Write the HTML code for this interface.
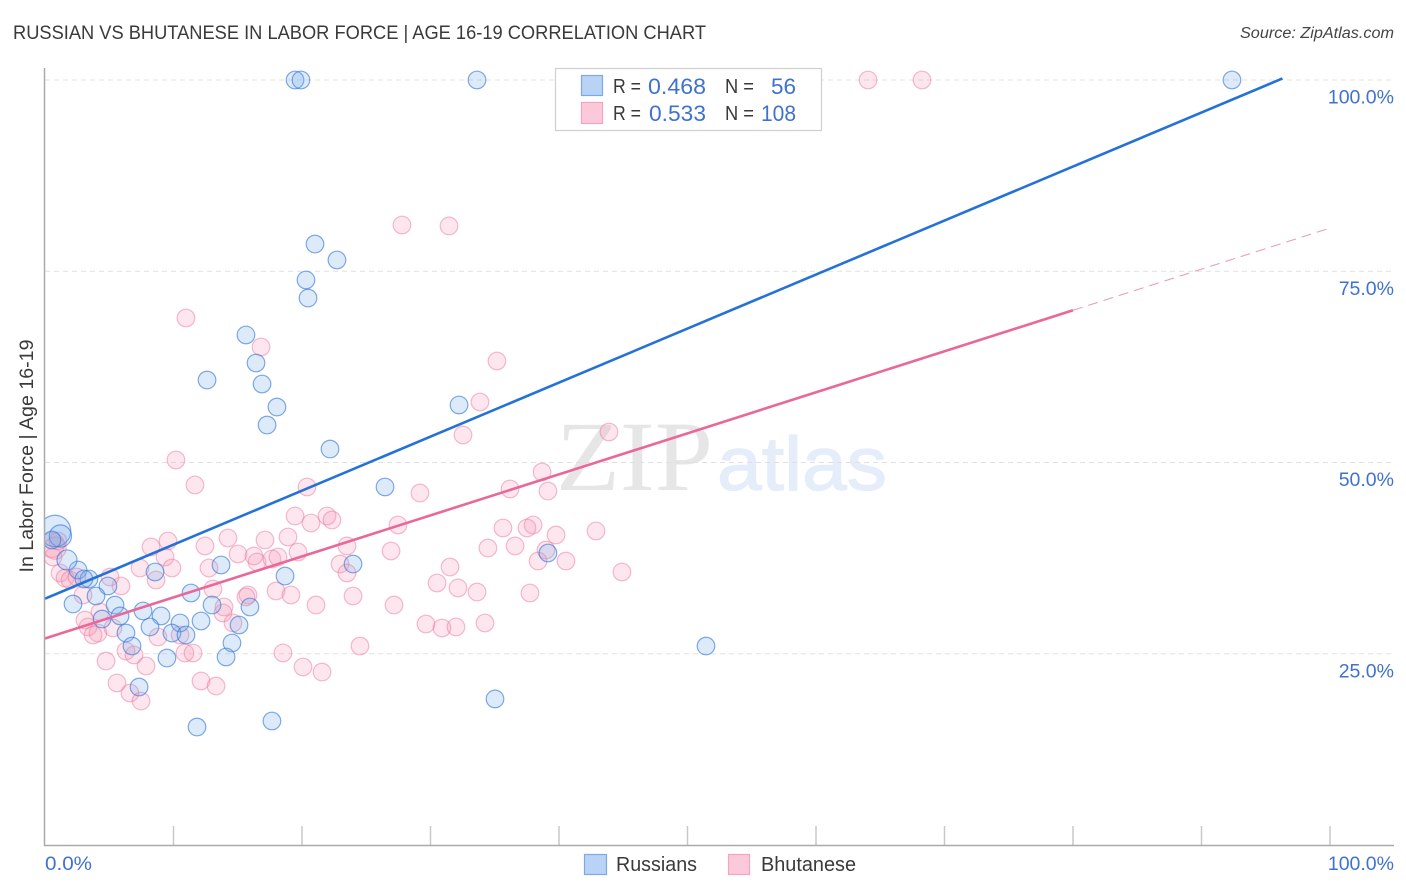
<!DOCTYPE html>
<html lang="en">
<head>
<meta charset="utf-8">
<title>Russian vs Bhutanese in Labor Force | Age 16-19 Correlation Chart</title>
<style>
html,body{margin:0;padding:0;background:#fff;}
svg{display:block;font-family:"Liberation Sans",sans-serif;}
</style>
</head>
<body>
<svg id="chart" xmlns="http://www.w3.org/2000/svg" width="1406" height="892" viewBox="0 0 1406 892">
  <defs>
    <clipPath id="plot-clip"><rect x="45" y="60" width="1350" height="785"></rect></clipPath>
  </defs>
  <rect x="0" y="0" width="1406" height="892" fill="#fff"></rect>
  <text x="13" y="39" font-size="19" fill="#3a3a3a" textLength="693" lengthAdjust="spacingAndGlyphs">RUSSIAN VS BHUTANESE IN LABOR FORCE | AGE 16-19 CORRELATION CHART</text>
  <text x="1394" y="38" font-size="15.5" font-style="italic" fill="#444" text-anchor="end" textLength="154" lengthAdjust="spacingAndGlyphs">Source: ZipAtlas.com</text>
  <g>
    <text x="556" y="490" font-family="'Liberation Serif',serif" font-size="100" fill="#e6e6e6" textLength="157" lengthAdjust="spacingAndGlyphs">ZIP</text>
    <text x="717" y="490" font-family="'Liberation Sans',sans-serif" font-size="76" fill="#e4edf9" stroke="#e4edf9" stroke-width="1.2" textLength="170" lengthAdjust="spacingAndGlyphs">atlas</text>
  </g>
  <g id="grid"></g>
  <g id="ticks"></g>
  <g id="points-bhutanese" clip-path="url(#plot-clip)"></g>
  <g id="points-russians" clip-path="url(#plot-clip)"></g>
  <g id="trends"></g>
  <line x1="44.5" y1="68" x2="44.5" y2="846" stroke="#aaa" stroke-width="1.5"></line>
  <line x1="44" y1="845.5" x2="1394" y2="845.5" stroke="#aaa" stroke-width="1.5"></line>
  <g id="y-labels"></g>
  <text x="45" y="870" font-size="19" fill="#3f72cf" textLength="47" lengthAdjust="spacingAndGlyphs">0.0%</text>
  <text x="1394" y="870" font-size="19.5" fill="#3f72cf" text-anchor="end">100.0%</text>
  <text transform="translate(33,456) rotate(-90)" font-size="19" fill="#3a3a3a" text-anchor="middle" textLength="233" lengthAdjust="spacingAndGlyphs">In Labor Force | Age 16-19</text>

  <g>
    <rect x="555.5" y="68.5" width="266" height="62" fill="#fff" stroke="#d0d0d0" stroke-width="1.2"></rect>
    <rect x="581.5" y="75.5" width="21" height="20" fill="#b9d3f6" stroke="#7ea9e2" stroke-width="1.2"></rect>
    <rect x="581.5" y="102.5" width="21" height="21" fill="#fcc9da" stroke="#f5a6be" stroke-width="1.2"></rect>
    <text x="613" y="93" font-size="20" fill="#3a3a3a" textLength="28" lengthAdjust="spacingAndGlyphs">R =</text>
    <text x="648" y="94" font-size="22" fill="#3f72cf" textLength="58" lengthAdjust="spacingAndGlyphs">0.468</text>
    <text x="725" y="93" font-size="20" fill="#3a3a3a" textLength="29" lengthAdjust="spacingAndGlyphs">N =</text>
    <text x="771" y="94" font-size="22" fill="#3f72cf" textLength="25" lengthAdjust="spacingAndGlyphs">56</text>
    <text x="613" y="120" font-size="20" fill="#3a3a3a" textLength="28" lengthAdjust="spacingAndGlyphs">R =</text>
    <text x="649" y="121" font-size="22" fill="#3f72cf" textLength="57" lengthAdjust="spacingAndGlyphs">0.533</text>
    <text x="725" y="120" font-size="20" fill="#3a3a3a" textLength="29" lengthAdjust="spacingAndGlyphs">N =</text>
    <text x="761" y="121" font-size="22" fill="#3f72cf" textLength="35" lengthAdjust="spacingAndGlyphs">108</text>
  </g>

  <g>
    <g>
      <rect x="584.5" y="854.5" width="22" height="20" fill="#b9d3f6" stroke="#7ea9e2" stroke-width="1.2"></rect>
      <text x="616" y="871" font-size="20" fill="#3a3a3a" textLength="81" lengthAdjust="spacingAndGlyphs">Russians</text>
    </g>
    <g>
      <rect x="728.5" y="854.5" width="21" height="20" fill="#fcc9da" stroke="#f5a6be" stroke-width="1.2"></rect>
      <text x="761" y="871" font-size="20" fill="#3a3a3a" textLength="95" lengthAdjust="spacingAndGlyphs">Bhutanese</text>
    </g>
  </g>
</svg>
<script>
var yTickValues = [25, 50, 75, 100];
var yTickLabels = ["25.0%", "50.0%", "75.0%", "100.0%"];
var xTickValues = [10, 20, 30, 40, 50, 60, 70, 80, 90, 100];

var russiansX = [19.46,19.92,33.62,92.37,21.01,22.72,20.31,20.47,15.64,16.42,12.61,16.89,18.05,17.28,32.22,22.18,26.46,39.14,23.97,13.70,8.56,18.68,2.57,3.42,3.03,4.90,1.71,3.97,2.18,5.45,5.84,4.44,6.30,6.77,7.32,7.63,9.03,8.17,10.51,9.88,10.97,9.49,12.14,11.36,13.00,15.95,15.10,14.55,14.09,51.44,35.02,11.83,17.66,0.78,1.20,0.54];
var russiansY = [100,100,100,100,78.56,76.47,73.86,71.50,66.67,63.01,60.78,60.26,57.25,54.90,57.52,51.76,46.80,38.17,36.73,36.60,35.69,35.16,35.95,34.77,34.77,33.86,37.26,32.55,31.50,31.37,29.94,29.54,27.71,26.01,20.65,30.59,29.94,28.50,29.02,27.71,27.45,24.44,29.28,32.94,31.37,31.11,28.76,26.41,24.58,26.01,19.09,15.42,16.21,41.05,40.39,39.87];
var russiansWeight = [
  1,1,1,1,1,1,1,1,1,1,
  1,1,1,1,1,1,1,1,1,1,
  1,1,1,1,1,1,1.3,1,1,1,
  1,1,1,1,1,1,1,1,1,1,
  1,1,1,1,1,1,1,1,1,1,
  1,1,1,3.2,1.6,1
];

var bhutaneseX = [64.05,68.25,27.78,31.44,10.97,16.81,35.17,33.85,32.53,43.89,10.19,38.68,36.19,39.14,29.18,11.67,20.39,19.46,20.70,21.95,22.33,27.47,35.64,37.98,37.51,39.77,42.88,34.47,36.58,26.93,9.57,8.25,9.34,7.39,9.88,12.45,14.24,15.02,12.76,17.12,18.91,19.69,16.26,16.50,17.66,18.13,22.96,23.50,23.50,23.97,31.52,44.90,38.37,40.54,38.99,30.51,32.14,33.62,37.74,27.16,29.65,30.89,31.98,34.24,24.51,8.64,5.06,5.91,1.17,1.56,1.95,2.49,0.62,13.07,15.80,15.64,17.98,19.14,21.09,2.96,4.28,3.11,3.35,4.12,3.74,5.29,13.93,13.85,14.63,10.51,8.79,6.30,6.93,10.89,11.52,4.75,7.86,5.60,6.61,7.47,12.14,13.31,18.52,20.08,21.56,0.54,0.78,1.01];
var bhutaneseY = [100,100,81.05,80.92,68.89,65.10,63.27,57.91,53.60,53.99,50.33,48.76,46.54,46.27,46.01,47.06,46.80,43.01,42.09,43.01,42.48,41.83,41.44,41.83,41.44,40.52,41.05,38.82,39.09,38.43,39.74,38.96,37.65,36.21,36.21,39.09,40.13,38.04,36.21,39.87,40.26,38.30,37.78,36.99,37.39,37.65,36.73,35.56,39.09,32.55,36.34,35.69,37.12,37.12,38.56,34.25,33.60,33.07,32.94,31.37,28.89,28.37,28.50,29.02,26.01,34.64,35.03,33.86,35.56,34.90,34.64,35.03,37.65,33.46,32.68,32.42,33.20,32.68,31.37,32.68,30.46,29.41,28.50,27.71,27.45,28.37,31.11,30.33,29.02,27.45,27.19,25.36,24.84,25.10,25.10,24.05,23.40,21.18,19.87,18.82,21.44,20.78,25.10,23.27,22.61,39.22,38.82,39.74];
var bhutaneseWeight = [
  1,1,1,1,1,1,1,1,1,1,
  1,1,1,1,1,1,1,1,1,1,
  1,1,1,1,1,1,1,1,1,1,
  1,1,1,1,1,1,1,1,1,1,
  1,1,1,1,1,1,1,1,1,1,
  1,1,1,1,1,1,1,1,1,1,
  1,1,1,1,1,1,1,1,1,1,
  1,1,1,1,1,1,1,1,1,1,
  1,1,1,1,1,1,1,1,1,1,
  1,1,1,1,1,1,1,1,1,1,
  1,1,1,1,1,2,1.6,1
];

var russiansTrendX = [0, 96.3];
var russiansTrendY = [32.2, 100.2];
var bhutaneseTrendX = [0, 80];
var bhutaneseTrendY = [27.0, 69.9];
var bhutaneseProjectionX = [80, 100.1];
var bhutaneseProjectionY = [69.9, 80.7];

var NS = "http://www.w3.org/2000/svg";
function xScale(v) { return 45 + v * 12.85; }
function yScale(v) { return 845 - v * 7.65; }
function rScale(w) { return 8.8 * Math.sqrt(w); }
function make(tag, attrs, parent) {
  var el = document.createElementNS(NS, tag);
  Object.keys(attrs).forEach(function (k) { el.setAttribute(k, attrs[k]); });
  parent.appendChild(el);
  return el;
}

var gridGroup = document.getElementById("grid");
var labelGroup = document.getElementById("y-labels");
yTickValues.forEach(function (v, i) {
  var line = make("line", {x1: 45, x2: 1394, y1: yScale(v), y2: yScale(v), stroke: "#e0e0e0", "stroke-width": 1, "stroke-dasharray": "5 4"}, gridGroup);
  
  
  var label = make("text", {x: 1394, y: yScale(v) + 23.5, "font-size": 19.5, fill: "#3f72cf", "text-anchor": "end"}, labelGroup);
  
  
  label.textContent = yTickLabels[i];
});

var tickGroup = document.getElementById("ticks");
xTickValues.forEach(function (v) {
  var tick = make("line", {x1: xScale(v), x2: xScale(v), y1: 826, y2: 845, stroke: "#c8c8c8", "stroke-width": 1.5}, tickGroup);
  
  
});

function drawPoints(groupId, xs, ys, ws, fill, stroke) {
  var group = document.getElementById(groupId);
  xs.forEach(function (x, i) {
    var dot = make("circle", {cx: xScale(x), cy: yScale(ys[i]), r: rScale(ws[i] || 1), fill: fill, stroke: stroke, "stroke-width": 1.2}, group);
    
    
  });
}
drawPoints("points-bhutanese", bhutaneseX, bhutaneseY, bhutaneseWeight, "rgba(245,150,180,0.24)", "rgba(236,120,160,0.5)");
drawPoints("points-russians", russiansX, russiansY, russiansWeight, "rgba(120,170,235,0.25)", "rgba(50,120,215,0.62)");

var trendGroup = document.getElementById("trends");
var blueLine = make("line", {x1: xScale(russiansTrendX[0]), y1: yScale(russiansTrendY[0]), x2: xScale(russiansTrendX[1]), y2: yScale(russiansTrendY[1]), stroke: "#2472d8", "stroke-width": 2.6}, trendGroup);


var pinkLine = make("line", {x1: xScale(bhutaneseTrendX[0]), y1: yScale(bhutaneseTrendY[0]), x2: xScale(bhutaneseTrendX[1]), y2: yScale(bhutaneseTrendY[1]), stroke: "#e9689a", "stroke-width": 2.6}, trendGroup);


var pinkDash = make("line", {x1: xScale(bhutaneseProjectionX[0]), y1: yScale(bhutaneseProjectionY[0]), x2: xScale(bhutaneseProjectionX[1]), y2: yScale(bhutaneseProjectionY[1]), stroke: "#eb9ab8", "stroke-width": 1, "stroke-dasharray": "10 6"}, trendGroup);


</script>
</body>
</html>
